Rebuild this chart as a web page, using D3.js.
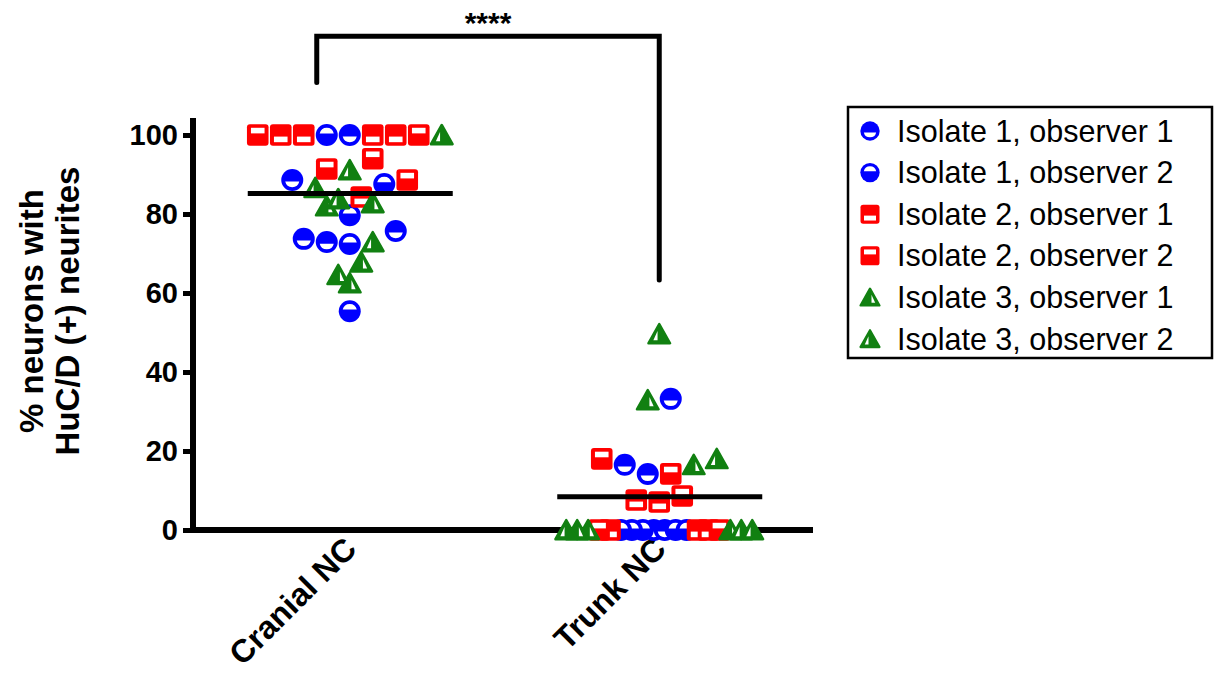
<!DOCTYPE html>
<html>
<head>
<meta charset="utf-8">
<script src="https://cdn.jsdelivr.net/npm/d3@7"></script>
<style>
  body { margin: 0; background: #fff; }
  svg { display: block; font-family: "Liberation Sans", Arial, Helvetica, sans-serif; }
</style>
</head>
<body>
<svg id="chart" width="1215" height="675"></svg>
<script>
// groups along the x axis
var categories = ["Cranial NC", "Trunk NC"];

// one entry per isolate / observer pair, in legend order
var seriesNames = ["Isolate 1, observer 1", "Isolate 1, observer 2",
                   "Isolate 2, observer 1", "Isolate 2, observer 2",
                   "Isolate 3, observer 1", "Isolate 3, observer 2"];
var seriesShapes = ["circle", "circle", "square", "square", "triangle", "triangle"];
var seriesObserver = [1, 2, 1, 2, 1, 2];
var seriesColors = ["#0000ff", "#0000ff", "#ff0000", "#ff0000", "#118011", "#118011"];

// % neurons with HuC/D (+) neurites
var cranialValues = [
  [100, 88.6, 75.7, 72.9, 73.7],
  [100, 87.6, 79.7, 72.4, 55.4],
  [100, 100, 100, 100, 84.3],
  [100, 100, 94, 91.4, 88.6],
  [82, 82.8, 67.8, 64.6, 62.5],
  [100, 91.1, 86.6, 83.8, 72.9]
];
var trunkValues = [
  [33.2, 16.5, 14.2, 0, 0],
  [0, 0, 0, 0, 0],
  [7.6, 7.1, 0, 0, 0],
  [18, 14.2, 8.6, 0, 0],
  [32.9, 16.5, 0, 0, 0],
  [49.6, 18, 0, 0, 0]
];
var groupMeans = [85.2, 8.4];
var yTicks = [0, 20, 40, 60, 80, 100];
var significance = "****";

var svg = d3.select("#chart");

var x = d3.scalePoint().domain(categories).range([195, 814]).padding(0.5);
var y = d3.scaleLinear().domain([0, 104.3]).range([530, 118]);

var slotWidth = 23,    // distance between neighbours in a row
    rowHeight = 20,    // points closer than this (px) share a row
    maxRowWidth = 186; // rows wider than this get squeezed

// white, hollow part of the half filled prism symbols
function hollowPath(shape, obs) {
  var s = obs === 1 ? 1 : -1;
  if (shape === "circle") {
    var a = 1.6, ri = 7.2, w = Math.sqrt(ri * ri - a * a);
    return "M" + (-w) + "," + (s * a) + "L" + w + "," + (s * a) +
      "A" + ri + "," + ri + " 0 0 " + (obs === 1 ? 1 : 0) + " " + (-w) + "," + (s * a) + "Z";
  }
  if (shape === "square") {
    return obs === 1 ? "M-6.8,1.6H6.8V7.2H-6.8Z" : "M-6.8,-7.2H6.8V-1.6H-6.8Z";
  }
  // triangle: thin wedge on the right (observer 1) or left (observer 2)
  return "M" + (s * 1.7) + ",-3L" + (s * 1.7) + ",6.2L" + (s * 5.9) + ",6.2Z";
}

function drawSymbol(g, shape, obs, color) {
  if (shape === "circle") {
    g.append("circle").attr("r", 11).attr("fill", color);
  } else if (shape === "square") {
    g.append("rect").attr("x", -10.8).attr("y", -10.8).attr("width", 21.6).attr("height", 21.6)
      .attr("rx", 3).attr("fill", color);
  } else {
    g.append("path").attr("d", "M0,-10L10.8,9.2L-10.8,9.2Z")
      .attr("fill", color).attr("stroke", color).attr("stroke-width", 2.5)
      .attr("stroke-linejoin", "round");
  }
  g.append("path").attr("d", hollowPath(shape, obs)).attr("fill", "#fff");
}

// prism-like scatter: points are grouped in rows, lowest values in the middle
function layoutColumn(values, cx) {
  var pts = [];
  values.forEach(function(vals, s) {
    vals.forEach(function(v) { pts.push({ s: s, v: v }); });
  });
  var rows = [], row = null;
  pts.slice().sort(function(a, b) { return b.v - a.v; }).forEach(function(p) {
    if (!row || y(p.v) - y(row.top) > rowHeight) {
      row = { top: p.v, pts: [] };
      rows.push(row);
    }
    row.pts.push(p);
  });
  rows.forEach(function(r) {
    var n = r.pts.length,
        step = n > 1 ? Math.min(slotWidth, maxRowWidth / (n - 1)) : 0;
    var offs = d3.range(n).map(function(i) { return (i - (n - 1) / 2) * step; })
      .sort(function(a, b) { return Math.abs(a) - Math.abs(b); });
    r.pts.slice().sort(function(a, b) { return a.v - b.v; }).forEach(function(p, i) {
      p.x = cx + offs[i];
      p.y = y(p.v);
    });
  });
  return pts;
}

// axes
var yAxis = d3.axisLeft(y).tickValues(yTicks).tickSize(10).tickPadding(5).tickSizeOuter(0);
var gy = svg.append("g").attr("transform", "translate(193,0)").call(yAxis);
gy.select(".domain").remove();
gy.selectAll(".tick line").attr("stroke", "#000").attr("stroke-width", 5);
gy.selectAll(".tick text").attr("font-size", 29).attr("font-weight", "bold")
  .attr("fill", "#000").attr("font-family", "Liberation Sans, Arial, sans-serif");

svg.append("line").attr("x1", 193).attr("x2", 193).attr("y1", y(104.3)).attr("y2", y(0) + 3)
  .attr("stroke", "#000").attr("stroke-width", 6);
svg.append("line").attr("x1", 190).attr("x2", 813).attr("y1", y(0)).attr("y2", y(0))
  .attr("stroke", "#000").attr("stroke-width", 6);

var xAxis = d3.axisBottom(x).tickSize(0).tickSizeOuter(0);
var gx = svg.append("g").attr("transform", "translate(0," + y(0) + ")").call(xAxis);
gx.select(".domain").remove();
gx.selectAll(".tick text")
  .attr("x", 0).attr("y", 0).attr("dy", 0)
  .attr("text-anchor", "end")
  .attr("transform", "translate(8,21) rotate(-45)")
  .attr("font-size", 32).attr("font-weight", "bold").attr("fill", "#000")
  .attr("font-family", "Liberation Sans, Arial, sans-serif");

// y title, two lines
var yTitle = ["% neurons with", "HuC/D (+) neurites"];
svg.selectAll(".ytitle").data(yTitle).enter().append("text")
  .attr("class", "ytitle")
  .attr("transform", function(d, i) { return "translate(" + (43 + i * 36) + ",311) rotate(-90)"; })
  .attr("text-anchor", "middle")
  .attr("font-size", 33).attr("font-weight", "bold")
  .text(function(d) { return d; });

// points
var allValues = [cranialValues, trunkValues];
categories.forEach(function(cat, ci) {
  var pts = layoutColumn(allValues[ci], x(cat));
  // draw series in order so triangles end on top
  pts.sort(function(a, b) { return a.s - b.s; });
  svg.append("g").selectAll("g").data(pts).enter().append("g")
    .attr("transform", function(d) { return "translate(" + d.x + "," + d.y + ")"; })
    .each(function(d) {
      drawSymbol(d3.select(this), seriesShapes[d.s], seriesObserver[d.s], seriesColors[d.s]);
    });
});

// mean lines
svg.selectAll(".mean").data(groupMeans).enter().append("line")
  .attr("class", "mean")
  .attr("x1", function(d, i) { return x(categories[i]) - 102; })
  .attr("x2", function(d, i) { return x(categories[i]) + 103; })
  .attr("y1", function(d) { return y(d); })
  .attr("y2", function(d) { return y(d); })
  .attr("stroke", "#000").attr("stroke-width", 5);

// significance bracket
var bx1 = x(categories[0]) - 33, bx2 = x(categories[1]);
svg.append("path")
  .attr("d", "M" + bx1 + "," + y(113.3) + "V" + y(125) + "H" + bx2 + "V" + y(63.3))
  .attr("fill", "none").attr("stroke", "#000").attr("stroke-width", 5)
  .attr("stroke-linecap", "round");
svg.append("text")
  .attr("x", (bx1 + bx2) / 2).attr("y", 33)
  .attr("text-anchor", "middle")
  .attr("font-size", 30).attr("font-weight", "bold")
  .text(significance);

// legend
var legend = svg.append("g");
legend.append("rect").attr("x", 848).attr("y", 107).attr("width", 364).attr("height", 251)
  .attr("fill", "none").attr("stroke", "#000").attr("stroke-width", 2.5);
var items = legend.selectAll(".item").data(seriesNames).enter().append("g")
  .attr("class", "item")
  .attr("transform", function(d, i) { return "translate(870," + (131 + i * 41.6) + ")"; });
items.each(function(d, i) {
  var m = d3.select(this).append("g").attr("transform", "scale(0.88)");
  drawSymbol(m, seriesShapes[i], seriesObserver[i], seriesColors[i]);
});
items.append("text")
  .attr("x", 27).attr("y", 10.5)
  .attr("font-size", 30.5)
  .text(function(d) { return d; });
</script>
</body>
</html>
